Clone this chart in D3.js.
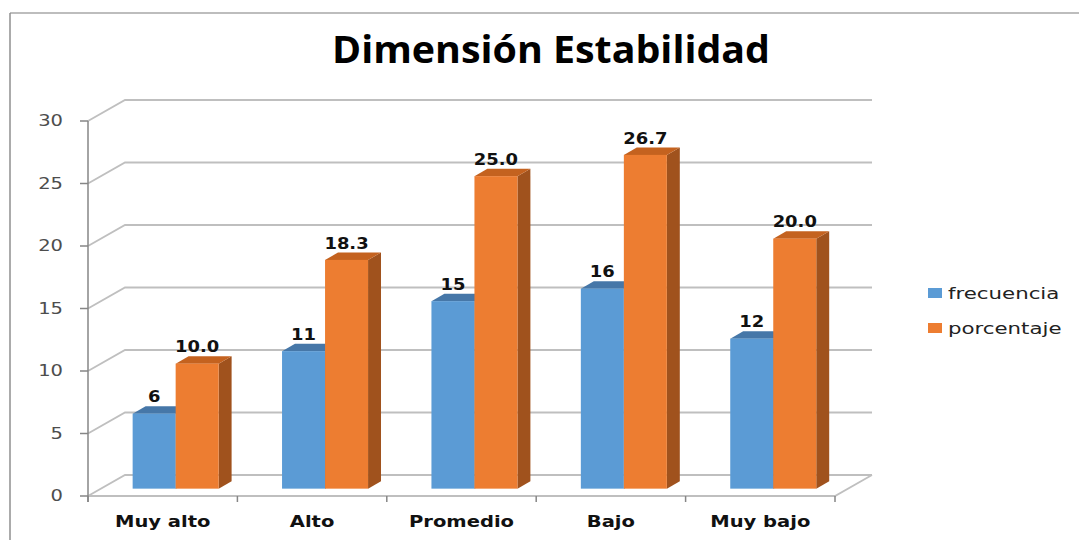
<!DOCTYPE html>
<html>
<head>
  <meta charset="utf-8">
  <title>Dimensión Estabilidad</title>
  <style>
    body { margin: 0; background: #fff; }
    svg { display: block; }
  </style>
</head>
<body>
  <svg width="1079" height="540"></svg>
  <script src="https://d3js.org/d3.v7.min.js"></script>
  <script>
    // data
    var categories = ["Muy alto", "Alto", "Promedio", "Bajo", "Muy bajo"];
    var seriesNames = ["frecuencia", "porcentaje"];
    var frecuencia = [6, 11, 15, 16, 12];
    var porcentaje = [10.0, 18.3, 25.0, 26.7, 20.0];
    var yTicks = [0, 5, 10, 15, 20, 25, 30];

    var colors = {
      frecuencia: { front: "#5b9bd5", top: "#4677a8", side: "#3f6c99" },
      porcentaje: { front: "#ed7d31", top: "#c4621f", side: "#a0521d" }
    };

    var svg = d3.select("svg");

    // depth of the 3d box and of the bars inside it
    var depth = { dx: 37, dy: -21 };
    var f0 = 0.35, f1 = 0.70;

    var x0 = d3.scaleBand().domain(categories).range([88, 835]);
    var x1 = d3.scaleBand().domain(seriesNames).range([0, x0.bandwidth()])
      .paddingInner(0).paddingOuter(0.737);
    var y = d3.scaleLinear().domain([0, 30]).range([496, 121]);

    function stretch(sel, k) {
      sel.each(function () {
        var w = this.getComputedTextLength();
        d3.select(this).attr("textLength", w * k).attr("lengthAdjust", "spacingAndGlyphs");
      });
    }

    // outer frame
    svg.append("line").attr("x1", 10).attr("y1", 13).attr("x2", 1079).attr("y2", 13)
      .attr("stroke", "#bdbdbd").attr("stroke-width", 2);
    svg.append("line").attr("x1", 10).attr("y1", 13).attr("x2", 10).attr("y2", 540)
      .attr("stroke", "#8f8f8f").attr("stroke-width", 1.5);

    // title
    svg.append("text")
      .attr("x", 551).attr("y", 63)
      .attr("text-anchor", "middle")
      .attr("font-family", "Open Sans")
      .attr("font-weight", "bold")
      .attr("font-size", 38)
      .attr("textLength", 438).attr("lengthAdjust", "spacingAndGlyphs")
      .text("Dimensión Estabilidad");

    // gridlines: side wall diagonal + back wall
    var grid = svg.append("g").attr("stroke", "#bfbfbf").attr("stroke-width", 1.8).attr("fill", "none");
    var xL = x0.range()[0], xR = x0.range()[1];
    yTicks.forEach(function (t) {
      grid.append("polyline")
        .attr("points", [[xL, y(t)], [xL + depth.dx, y(t) + depth.dy], [xR + depth.dx, y(t) + depth.dy]].join(" "));
    });
    // floor: front edge and right edge
    grid.append("polyline")
      .attr("points", [[xL, y(0)], [xR, y(0)], [xR + depth.dx, y(0) + depth.dy]].join(" "));

    // y axis
    var axis = svg.append("g").attr("stroke", "#868686").attr("stroke-width", 1.5);
    axis.append("line").attr("x1", xL).attr("x2", xL).attr("y1", y(30)).attr("y2", y(0) + 6);
    yTicks.forEach(function (t) {
      axis.append("line").attr("x1", xL - 8).attr("x2", xL).attr("y1", y(t)).attr("y2", y(t));
    });
    // category ticks
    var bounds = categories.map(function (c) { return x0(c); }).concat([xR]);
    bounds.forEach(function (b) {
      axis.append("line").attr("x1", b).attr("x2", b).attr("y1", y(0)).attr("y2", y(0) + 6);
    });

    var tickLabels = svg.append("g").selectAll("text").data(yTicks).enter().append("text")
      .attr("x", 63).attr("y", function (d) { return y(d); })
      .attr("dy", "0.36em")
      .attr("text-anchor", "end")
      .attr("font-family", "DejaVu Sans")
      .attr("font-size", 15)
      .attr("fill", "#4d4d4d")
      .text(function (d) { return d; });
    stretch(tickLabels, 1.3);

    // bars
    var rows = categories.map(function (c, i) {
      return { cat: c, values: [
        { key: "frecuencia", value: frecuencia[i] },
        { key: "porcentaje", value: porcentaje[i] }
      ] };
    });

    var ax = depth.dx * f0, ay = depth.dy * f0;
    var bx = depth.dx * (f1 - f0), by = depth.dy * (f1 - f0);
    var bw = x1.bandwidth();

    var barLayer = svg.append("g");
    var labelLayer = svg.append("g");

    rows.forEach(function (row) {
      row.values.forEach(function (d) {
        var c = colors[d.key];
        var left = x0(row.cat) + x1(d.key) + ax;
        var right = left + bw;
        var top = y(d.value) + ay;
        var base = y(0) + ay;
        var g = barLayer.append("g");
        g.append("polygon")
          .attr("points", [[right, top], [right + bx, top + by], [right + bx, base + by], [right, base]].join(" "))
          .attr("fill", c.side);
        g.append("polygon")
          .attr("points", [[left, top], [left + bx, top + by], [right + bx, top + by], [right, top]].join(" "))
          .attr("fill", c.top);
        g.append("rect")
          .attr("x", left).attr("y", top).attr("width", bw).attr("height", base - top)
          .attr("fill", c.front);

        labelLayer.append("text")
          .attr("x", left + bw / 2)
          .attr("y", top + by - 4)
          .attr("text-anchor", "middle")
          .attr("font-family", "DejaVu Sans")
          .attr("font-weight", "bold")
          .attr("font-size", 16)
          .attr("fill", "#111")
          .text(d.key === "porcentaje" ? d.value.toFixed(1) : d.value)
          .call(stretch, 1.12);
      });
    });

    // category labels
    var catLabels = svg.append("g").selectAll("text").data(categories).enter().append("text")
      .attr("x", function (d) { return x0(d) + x0.bandwidth() / 2; })
      .attr("y", 527)
      .attr("text-anchor", "middle")
      .attr("font-family", "DejaVu Sans")
      .attr("font-weight", "bold")
      .attr("font-size", 16)
      .attr("fill", "#111")
      .text(function (d) { return d; });
    stretch(catLabels, 1.22);

    // legend
    var legend = svg.append("g").selectAll("g").data(seriesNames).enter().append("g")
      .attr("transform", function (d, i) { return "translate(928," + (293 + i * 35) + ")"; });
    legend.append("rect").attr("x", 0).attr("y", -5).attr("width", 14).attr("height", 10)
      .attr("fill", function (d) { return colors[d].front; });
    var legText = legend.append("text").attr("x", 20).attr("dy", "0.35em")
      .attr("font-family", "DejaVu Sans")
      .attr("font-size", 16)
      .attr("fill", "#222")
      .text(function (d) { return d; });
    stretch(legText, 1.33);
  </script>
</body>
</html>
